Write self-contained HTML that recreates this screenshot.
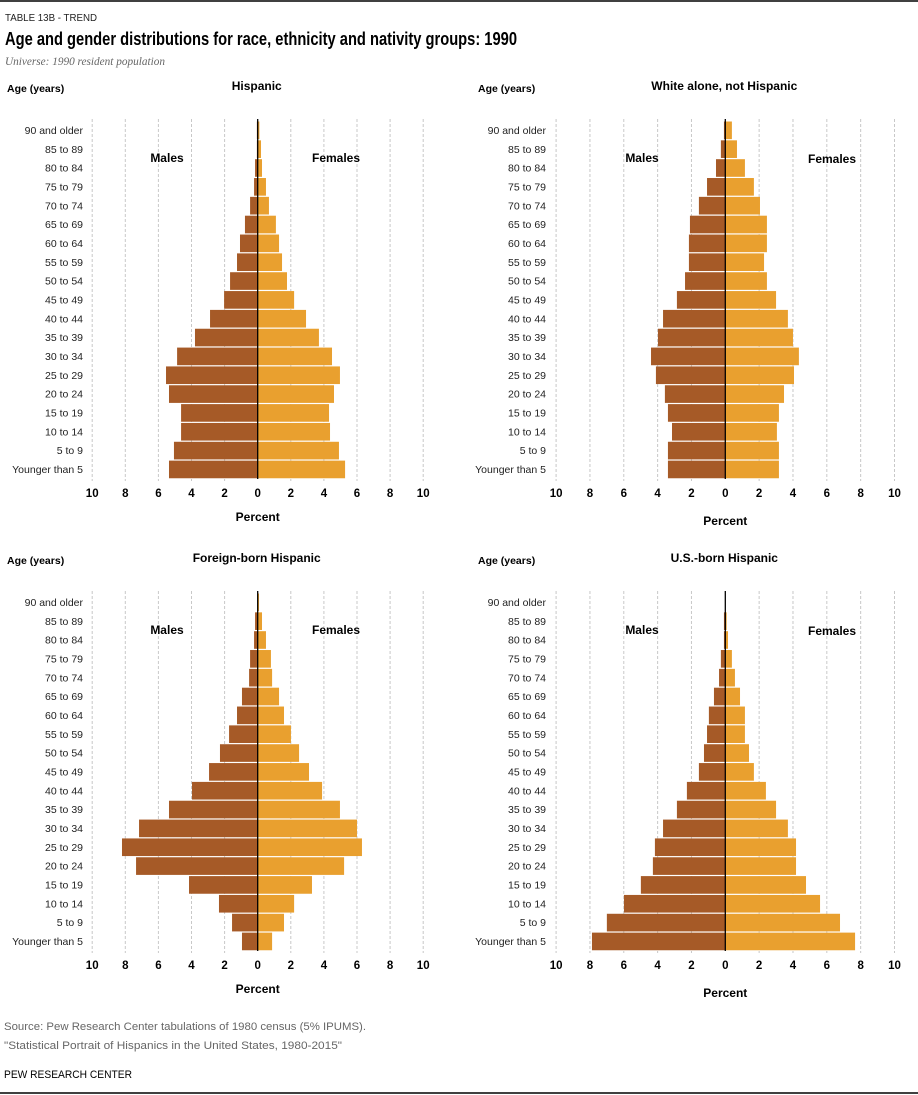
<!DOCTYPE html>
<html><head><meta charset="utf-8"><style>
body{margin:0;background:#fff;}
svg{display:block;font-family:"Liberation Sans",sans-serif;}
</style></head><body>
<svg id="chart" width="918" height="1095" viewBox="0 0 918 1095">
<line x1="0" y1="1" x2="918" y2="1" stroke="#000" stroke-width="1.5"/>
<text x="5" y="21" font-size="10.5" fill="#222" textLength="92" lengthAdjust="spacingAndGlyphs">TABLE 13B - TREND</text>
<text x="5" y="45" font-size="18" font-weight="bold" fill="#000" textLength="512" lengthAdjust="spacingAndGlyphs">Age and gender distributions for race, ethnicity and nativity groups: 1990</text>
<text x="5" y="65" font-size="12" font-style="italic" fill="#666" font-family="Liberation Serif,serif" textLength="160" lengthAdjust="spacingAndGlyphs">Universe: 1990 resident population</text>
<text x="4" y="1030" font-size="11" fill="#666" textLength="362" lengthAdjust="spacingAndGlyphs">Source: Pew Research Center tabulations of 1980 census (5% IPUMS).</text>
<text x="4" y="1049" font-size="11" fill="#666" textLength="338" lengthAdjust="spacingAndGlyphs">"Statistical Portrait of Hispanics in the United States, 1980-2015"</text>
<text x="4" y="1078" font-size="11" fill="#000" textLength="128" lengthAdjust="spacingAndGlyphs">PEW RESEARCH CENTER</text>
<line x1="0" y1="1093" x2="918" y2="1093" stroke="#000" stroke-width="1.5"/>
</svg>
<script>
const ageGroups=["90 and older","85 to 89","80 to 84","75 to 79","70 to 74","65 to 69","60 to 64","55 to 59","50 to 54","45 to 49","40 to 44","35 to 39","30 to 34","25 to 29","20 to 24","15 to 19","10 to 14","5 to 9","Younger than 5"];
const tickValues=[10,8,6,4,2,0,2,4,6,8,10];
const hispanicMales=[0.05,0.05,0.16,0.22,0.46,0.77,1.07,1.25,1.67,2.03,2.88,3.79,4.87,5.54,5.36,4.63,4.63,5.06,5.36];
const hispanicFemales=[0.1,0.2,0.26,0.5,0.68,1.1,1.29,1.47,1.77,2.2,2.92,3.7,4.49,4.97,4.61,4.31,4.37,4.91,5.28];
const whiteMales=[0.08,0.26,0.55,1.08,1.56,2.09,2.15,2.15,2.38,2.86,3.68,3.98,4.39,4.1,3.57,3.39,3.15,3.39,3.39];
const whiteFemales=[0.39,0.69,1.16,1.69,2.05,2.46,2.46,2.29,2.46,3.0,3.7,4.0,4.35,4.06,3.47,3.17,3.05,3.17,3.17];
const foreignMales=[0,0.16,0.22,0.46,0.52,0.95,1.25,1.73,2.28,2.94,3.97,5.36,7.17,8.2,7.35,4.15,2.34,1.55,0.95];
const foreignFemales=[0.08,0.26,0.5,0.8,0.87,1.29,1.59,2.01,2.5,3.1,3.89,4.97,6.0,6.3,5.22,3.28,2.2,1.59,0.87];
const usbornMales=[0,0.08,0.08,0.26,0.37,0.67,0.97,1.08,1.26,1.56,2.27,2.86,3.68,4.16,4.28,4.99,5.99,7.0,7.88];
const usbornFemales=[0,0.08,0.16,0.39,0.57,0.87,1.16,1.16,1.4,1.69,2.4,3.0,3.7,4.18,4.18,4.77,5.6,6.78,7.67];

const NS="http://www.w3.org/2000/svg";
const svg=document.getElementById('chart');
function mk(tag,attrs,parent){const e=document.createElementNS(NS,tag);for(const k in attrs)e.setAttribute(k,attrs[k]);(parent||svg).appendChild(e);return e;}

const panels=[
 {slug:"hispanic",title:"Hispanic",males:hispanicMales,females:hispanicFemales,x0:257.7,ppu:16.55,top:121,labelX:83,ageX:7,titleY:90,ageY:92,mY:162,fY:162,mX:167,fX:336,tickY:497,pY:521},
 {slug:"white",title:"White alone, not Hispanic",males:whiteMales,females:whiteFemales,x0:725.3,ppu:16.92,top:121,labelX:546,ageX:478,titleY:90,ageY:92,mY:162,fY:163,mX:642,fX:832,tickY:497,pY:525},
 {slug:"foreign-born",title:"Foreign-born Hispanic",males:foreignMales,females:foreignFemales,x0:257.7,ppu:16.55,top:593,labelX:83,ageX:7,titleY:562,ageY:564,mY:634,fY:634,mX:167,fX:336,tickY:969,pY:993},
 {slug:"us-born",title:"U.S.-born Hispanic",males:usbornMales,females:usbornFemales,x0:725.3,ppu:16.92,top:593,labelX:546,ageX:478,titleY:562,ageY:564,mY:634,fY:635,mX:642,fX:832,tickY:969,pY:997}
];
const rowH=18.84;
panels.forEach(p=>{
 const g=mk('g',{});
 
 
 const xs=(v,side)=>p.x0+side*v*p.ppu;
 const bottom=p.top+rowH*ageGroups.length;
 // gridlines
 tickValues.forEach((t,i)=>{
  const side=i<5?-1:1;
  if(t===0)return;
  const gl=mk('line',{x1:xs(t,side),x2:xs(t,side),y1:p.top-2,y2:bottom+2,stroke:"#c8c8c8","stroke-dasharray":"3,2","stroke-width":1},g);
  
  
 });
 ageGroups.forEach((a,i)=>{
  const y=p.top+i*rowH;
  const mv=p.males[i],fv=p.females[i];
  const mb=mk('rect',{x:xs(mv,-1),y:y+0.5,width:Math.max(0,mv*p.ppu),height:rowH-1.2,fill:"#A65A27"},g);
  
  
  const fb=mk('rect',{x:p.x0,y:y+0.5,width:Math.max(0,fv*p.ppu),height:rowH-1.2,fill:"#E9A02F"},g);
  
  
  const lt=mk('text',{x:p.labelX,y:y+rowH/2+3.5,"font-size":10.5,"text-anchor":"end",fill:"#222"},g);
  lt.textContent=a;
  
  
 });
 const ax=mk('line',{x1:p.x0,x2:p.x0,y1:p.top-2,y2:bottom,stroke:"#000","stroke-width":1.3},g);
 
 
 tickValues.forEach((t,i)=>{
  const side=i<5?-1:1;
  const tt=mk('text',{x:xs(t,side),y:p.tickY,"font-size":11.5,"font-weight":"bold","text-anchor":"middle"},g);
  tt.textContent=t;
  
  
 });
 const pt=mk('text',{x:p.x0,y:p.pY,"font-size":12,"font-weight":"bold","text-anchor":"middle"},g);
 pt.textContent="Percent";
 
 
 const tt=mk('text',{x:p.x0-1,y:p.titleY,"font-size":12,"font-weight":"bold","text-anchor":"middle"},g);
 tt.textContent=p.title;
 
 
 const at=mk('text',{x:p.ageX,y:p.ageY,"font-size":10.5,"font-weight":"bold"},g);
 at.textContent="Age (years)";
 
 
 const ml=mk('text',{x:p.mX,y:p.mY,"font-size":12,"font-weight":"bold","text-anchor":"middle"},g);
 ml.textContent="Males";
 
 
 const fl=mk('text',{x:p.fX,y:p.fY,"font-size":12,"font-weight":"bold","text-anchor":"middle"},g);
 fl.textContent="Females";
 
 
});
</script>
</body></html>
